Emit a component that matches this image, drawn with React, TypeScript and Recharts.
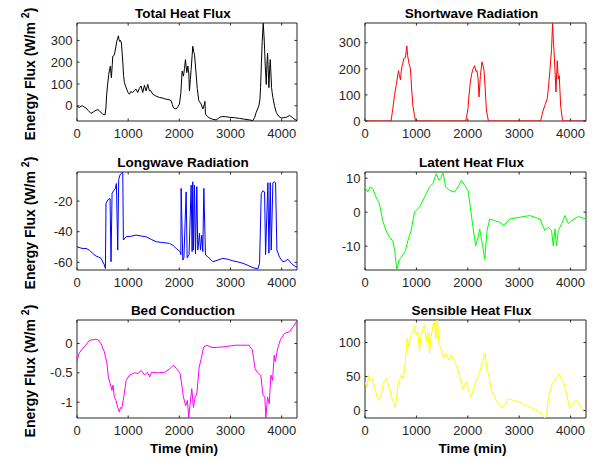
import { LineChart, Line, XAxis, YAxis, ReferenceArea } from 'recharts';

// [time (min), energy flux (W/m^2)]
const totalHeat: [number, number][] = [
    [0, -3], [46, -8], [80, -2], [111, 0], [140, -6], [176, -10], [220, -22], [274, -35], [320, -28],
    [372, -20], [410, -18], [437, -23], [470, -32], [502, -38], [548, -42], [565, -10], [580, 53],
    [600, 100], [620, 144], [640, 170], [652, 182], [672, 129], [690, 190], [698, 227], [720, 230],
    [737, 242], [760, 270], [776, 295], [795, 310], [809, 321], [820, 305], [835, 295], [850, 300],
    [868, 288], [880, 250], [894, 205], [910, 140], [926, 106], [950, 90], [972, 76], [1000, 60],
    [1024, 53], [1050, 65], [1089, 61], [1120, 70], [1155, 76], [1187, 61], [1220, 80], [1252, 91],
    [1285, 61], [1318, 94], [1350, 68], [1383, 98], [1416, 68], [1440, 70], [1481, 53], [1540, 45],
    [1611, 38], [1680, 35], [1742, 30], [1800, 28], [1840, 23], [1865, 5], [1885, -10], [1937, -15],
    [1970, -5], [2003, 8], [2030, 60], [2055, 159], [2081, 136], [2100, 170], [2120, 212], [2146, 152],
    [2166, 182], [2185, 150], [2198, 68], [2215, 120], [2231, 167], [2250, 230], [2263, 273], [2280, 250],
    [2296, 235], [2310, 200], [2329, 144], [2350, 80], [2381, 23], [2427, 8], [2459, -15], [2492, 8],
    [2500, 20], [2511, -38], [2550, -50], [2590, -56], [2650, -62], [2720, -65], [2780, -55], [2818, -50],
    [2900, -50], [2981, -53], [3080, -55], [3177, -58], [3280, -62], [3373, -65], [3438, -68], [3470, -55],
    [3503, -30], [3530, -15], [3555, 0], [3575, 30], [3588, 83], [3605, 200], [3620, 295], [3640, 379],
    [3655, 320], [3666, 265], [3680, 180], [3699, 98], [3712, 190], [3725, 242], [3738, 160], [3751, 83],
    [3765, 170], [3777, 212], [3790, 150], [3803, 83], [3815, 60], [3829, 38], [3860, 0], [3894, -30],
    [3940, -48], [3992, -56], [4040, -55], [4090, -53], [4155, -45], [4190, -50], [4220, -56], [4260, -63],
    [4300, -68],
];

const shortwave: [number, number][] = [
    [0, 0], [507, 0], [540, 45], [573, 98], [610, 140], [651, 193], [670, 175], [690, 158], [705, 190],
    [722, 212], [740, 225], [755, 240], [787, 243], [800, 265], [813, 288], [830, 250], [852, 224],
    [885, 199], [905, 130], [930, 61], [960, 25], [982, 0], [1958, 0], [1980, 20], [2004, 48], [2025, 100],
    [2049, 149], [2075, 180], [2101, 199], [2134, 212], [2160, 190], [2180, 193], [2200, 160], [2219, 92],
    [2245, 174], [2277, 227], [2300, 210], [2316, 193], [2340, 120], [2362, 42], [2401, 0], [3416, 0],
    [3440, 20], [3468, 42], [3500, 60], [3546, 86], [3570, 130], [3598, 193], [3630, 275], [3650, 376],
    [3662, 320], [3676, 275], [3700, 180], [3715, 111], [3741, 231], [3761, 161], [3780, 174], [3792, 120],
    [3806, 61], [3825, 30], [3845, 0], [4300, 0],
];

const longwave: [number, number][] = [
    [0, -49.8], [60, -50.5], [120, -51], [176, -50.9], [241, -52], [300, -54], [372, -55.9], [420, -56.5],
    [470, -57.4], [535, -61.7], [555, -64], [567, -21.5], [590, -20], [607, -19], [646, -18.3], [665, -59.6],
    [685, -15], [720, -13], [750, -11.7], [770, -8.5], [796, -52], [815, -6], [840, -3], [861, -2], [894, -1],
    [907, -45.4], [959, -43.3], [1050, -43], [1155, -42.2], [1250, -42.8], [1350, -43.3], [1450, -45],
    [1546, -46.5], [1650, -47], [1807, -47.6], [1880, -49], [1937, -50.9], [2016, -53], [2030, -55],
    [2035, -11.7], [2068, -58.5], [2090, -57], [2133, -14], [2153, -57], [2190, -55], [2231, -9.6],
    [2250, -53], [2263, -7.4], [2276, -52], [2296, -9.6], [2316, -54.5], [2342, -10.6], [2361, -52],
    [2394, -41], [2414, -52], [2440, -42.2], [2459, -53], [2479, -11.7], [2511, -55.2], [2557, -56.3],
    [2655, -59.6], [2753, -58.5], [2851, -57.4], [2950, -58], [3046, -59], [3150, -59.8], [3242, -60.6],
    [3340, -62], [3438, -63.5], [3535, -64.3], [3568, -60.6], [3601, -15], [3633, -13.3], [3666, -14],
    [3686, -55], [3731, -8], [3751, -54], [3777, -8], [3796, -52], [3829, -8], [3860, -7.5], [3881, -8],
    [3907, -52], [3959, -56.7], [4024, -59.6], [4080, -59], [4122, -58], [4188, -60.6], [4266, -62.8],
    [4300, -63],
];

const latentHeat: [number, number][] = [
    [0, 7.4], [52, 5.9], [98, 7.4], [150, 6.9], [215, 4.4], [280, 2.5], [345, -2.5], [410, -5.4],
    [475, -7.4], [540, -8.4], [579, -11.3], [618, -17], [657, -14.3], [703, -13.3], [748, -12.3],
    [787, -11.3], [833, -8.4], [898, -5.4], [963, 0], [1060, 1.5], [1158, 4.4], [1256, 7.4], [1321, 8.4],
    [1386, 11.3], [1438, 9.4], [1483, 10.3], [1516, 11.8], [1568, 7.4], [1646, 6.4], [1744, 5.9],
    [1828, 7.9], [1874, 9.4], [1939, 7.9], [2004, 6.4], [2049, 1.5], [2101, -4.4], [2153, -9.9],
    [2199, -7.4], [2232, -4.9], [2284, -9.4], [2329, -13.8], [2375, -5.4], [2427, -2], [2524, -2.5],
    [2622, -3], [2700, -3.9], [2817, -2], [3012, -1.5], [3207, -1], [3403, -2], [3500, -5.4], [3565, -4.4],
    [3630, -5.4], [3663, -9.9], [3696, -4.9], [3728, -9.9], [3761, -5.4], [3826, -3.4], [3891, -1],
    [3956, -3.4], [4021, -2.5], [4151, -1.3], [4300, -2],
];

const bedConduction: [number, number][] = [
    [0, -0.31], [39, -0.17], [105, -0.09], [171, -0.03], [237, 0.05], [336, 0.07], [401, 0.07], [467, 0],
    [533, -0.14], [586, -0.34], [612, -0.57], [651, -0.69], [684, -0.8], [704, -0.71], [730, -0.91],
    [763, -0.97], [796, -1.09], [829, -1.17], [849, -1.09], [875, -1.11], [914, -0.91], [961, -0.63],
    [1026, -0.54], [1125, -0.5], [1191, -0.51], [1257, -0.46], [1322, -0.54], [1375, -0.49], [1421, -0.57],
    [1454, -0.49], [1586, -0.5], [1717, -0.49], [1816, -0.43], [1882, -0.37], [1947, -0.43], [2013, -0.51],
    [2046, -0.69], [2079, -0.91], [2125, -1.06], [2158, -0.97], [2184, -1.27], [2211, -1.03], [2243, -0.77],
    [2276, -1.09], [2309, -0.91], [2342, -0.86], [2388, -0.4], [2428, -0.26], [2474, -0.06], [2539, -0.03],
    [2638, -0.07], [2836, -0.06], [3099, -0.03], [3362, -0.03], [3428, -0.11], [3480, -0.43], [3526, -0.49],
    [3592, -0.54], [3638, -0.89], [3671, -0.91], [3691, -1.27], [3724, -0.91], [3757, -1.03], [3789, -0.54],
    [3822, -0.63], [3855, -0.2], [3875, -0.31], [3921, -0.09], [3974, 0.06], [4053, 0.17], [4151, 0.2],
    [4230, 0.29], [4300, 0.39],
];

const sensibleHeat: [number, number][] = [
    [0, 42], [39, 34], [72, 52], [104, 42], [150, 47], [182, 35], [228, 22], [267, 15], [312, 22],
    [358, 40], [410, 47], [462, 37], [507, 22], [553, 12], [586, 5], [618, 20], [651, 42], [683, 47],
    [709, 52], [748, 47], [787, 72], [820, 106], [852, 94], [885, 109], [930, 116], [963, 124], [995, 111],
    [1028, 116], [1060, 87], [1093, 111], [1125, 119], [1158, 126], [1191, 101], [1223, 116], [1256, 84],
    [1288, 109], [1321, 124], [1353, 131], [1379, 106], [1405, 134], [1438, 99], [1483, 89], [1529, 77],
    [1581, 84], [1633, 74], [1679, 82], [1744, 72], [1789, 64], [1841, 50], [1906, 32], [1971, 42],
    [2036, 25], [2069, 20], [2115, 32], [2167, 45], [2232, 57], [2297, 74], [2336, 84], [2375, 59],
    [2414, 50], [2459, 30], [2524, 20], [2589, 10], [2655, 5], [2720, 7], [2785, 17], [2882, 15],
    [3012, 12], [3208, 5], [3403, -2], [3500, -11], [3533, -7], [3565, 15], [3611, 32], [3650, 40],
    [3696, 45], [3741, 50], [3780, 54], [3826, 45], [3871, 40], [3923, 25], [3975, 5], [4021, 6],
    [4066, 12], [4118, 15], [4170, 9], [4216, 2], [4300, 0],
];

const X_MAX = 4300;
const xTicks = [0, 1000, 2000, 3000, 4000];

const panels = [
    { title: 'Total Heat Flux', data: totalHeat, color: '#000000', domain: [-70, 380], ticks: [0, 100, 200, 300] },
    { title: 'Shortwave Radiation', data: shortwave, color: '#ff0000', domain: [0, 376], ticks: [0, 100, 200, 300] },
    { title: 'Longwave Radiation', data: longwave, color: '#0000ff', domain: [-65, -1], ticks: [-60, -40, -20] },
    { title: 'Latent Heat Flux', data: latentHeat, color: '#00ff00', domain: [-17, 11.8], ticks: [-10, 0, 10] },
    { title: 'Bed Conduction', data: bedConduction, color: '#ff00ff', domain: [-1.27, 0.4], ticks: [-1, -0.5, 0] },
    { title: 'Sensible Heat Flux', data: sensibleHeat, color: '#ffff00', domain: [-11, 133], ticks: [0, 50, 100] },
];

const FONT = '"Liberation Sans", Arial, Helvetica, sans-serif';
const AXIS = '#262626';
const TICK_LEN = 2.5;
const CHART_W = 300;
const CHART_H = 150;
const Y_AXIS_W = 40;
const X_AXIS_H = 29;
// plot box edges inside each 300x150 chart
const COLS = [
    { left: 0, plotL: 77, plotR: 297 },
    { left: 300, plotL: 65, plotR: 286 },
];
const PLOT_T = 23;
const ROW_TOPS = [0, 149, 297];

function Panel({ p, col, row }: { p: (typeof panels)[number]; col: number; row: number }) {
    const { left, plotL, plotR } = COLS[col];
    const plotT = PLOT_T;
    const plotB = CHART_H - X_AXIS_H;
    const rows = p.data.map(([t, v]) => ({ t, v }));

    const xTick = (props: any) => {
        const { x, payload } = props;
        return (
            <g>
                <line x1={x} x2={x} y1={plotB} y2={plotB - TICK_LEN} stroke={AXIS} />
                <line x1={x} x2={x} y1={plotT} y2={plotT + TICK_LEN} stroke={AXIS} />
                <text x={x} y={plotB + 17.3} textAnchor="middle" fill={AXIS} fontSize={13} fontFamily={FONT}>
                    {payload.value}
                </text>
            </g>
        );
    };
    const yTick = (props: any) => {
        const { y, payload } = props;
        return (
            <g>
                <line x1={plotL} x2={plotL + TICK_LEN} y1={y} y2={y} stroke={AXIS} />
                <line x1={plotR} x2={plotR - TICK_LEN} y1={y} y2={y} stroke={AXIS} />
                <text x={plotL - 4.5} y={y + 4.65} textAnchor="end" fill={AXIS} fontSize={13} fontFamily={FONT}>
                    {payload.value}
                </text>
            </g>
        );
    };

    return (
        <div style={{ position: 'absolute', left, top: ROW_TOPS[row] }}>
            <LineChart
                width={CHART_W}
                height={CHART_H}
                data={rows}
                margin={{ top: plotT, right: CHART_W - plotR, bottom: 0, left: plotL - Y_AXIS_W }}
            >
                <XAxis
                    dataKey="t"
                    type="number"
                    domain={[0, X_MAX]}
                    ticks={xTicks}
                    interval={0}
                    allowDataOverflow
                    height={X_AXIS_H}
                    axisLine={false}
                    tickLine={false}
                    tick={xTick}
                />
                <YAxis
                    type="number"
                    domain={p.domain}
                    ticks={p.ticks}
                    interval={0}
                    allowDataOverflow
                    width={Y_AXIS_W}
                    axisLine={false}
                    tickLine={false}
                    tick={yTick}
                />
                <ReferenceArea
                    x1={0}
                    x2={X_MAX}
                    y1={p.domain[0]}
                    y2={p.domain[1]}
                    fill="none"
                    stroke={AXIS}
                    strokeWidth={1}
                    ifOverflow="visible"
                />
                <Line
                    dataKey="v"
                    stroke={p.color}
                    strokeWidth={1}
                    dot={false}
                    isAnimationActive={false}
                />
            </LineChart>
        </div>
    );
}

export default function App() {
    const labels: any[] = [];
    panels.forEach((p, i) => {
        const col = i % 2;
        const row = Math.floor(i / 2);
        const { left, plotL, plotR } = COLS[col];
        const top = ROW_TOPS[row];
        const cx = left + (plotL + plotR) / 2;
        const cy = top + (PLOT_T + CHART_H - X_AXIS_H) / 2;
        labels.push(
            <text key={'t' + i} x={cx - 4} y={top + PLOT_T - 5.5} textAnchor="middle" fontWeight="bold" fontSize={13.5}>
                {p.title}
            </text>
        );
        if (col === 0) {
            labels.push(
                <text
                    key={'y' + i}
                    transform={`translate(35, ${cy + 2}) rotate(-90)`}
                    textAnchor="middle"
                    fontWeight="bold"
                    fontSize={14}
                >
                    Energy Flux (W/m
                    <tspan dx={4} dy={-6} fontSize={10.5}>2</tspan>
                    <tspan dy={6}>)</tspan>
                </text>
            );
        }
        if (row === 2) {
            labels.push(
                <text key={'x' + i} x={cx - 3} y={453} textAnchor="middle" fontWeight="bold" fontSize={13.5}>
                    Time (min)
                </text>
            );
        }
    });

    return (
        <div style={{ position: 'fixed', left: 0, top: 0, width: 600, height: 458, background: '#fff', overflow: 'hidden', fontFamily: FONT }}>
            {panels.map((p, i) => (
                <Panel key={p.title} p={p} col={i % 2} row={Math.floor(i / 2)} />
            ))}
            <svg width={600} height={458} style={{ position: 'absolute', left: 0, top: 0, pointerEvents: 'none' }} fontFamily={FONT} fill="#000">
                {labels}
            </svg>
        </div>
    );
}
